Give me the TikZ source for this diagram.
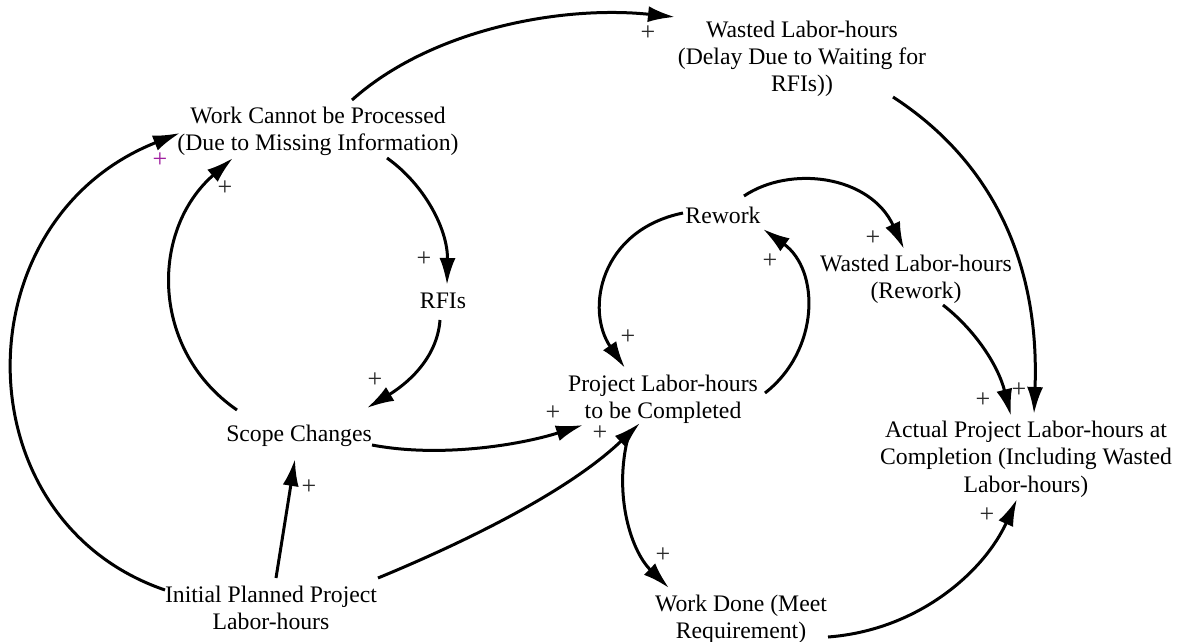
\documentclass[tikz,border=0pt]{standalone}
\usepackage{fontspec}
\setmainfont{Liberation Serif}
\usetikzlibrary{arrows.meta,calc}
\definecolor{pluscol}{HTML}{2A2A2A}
\definecolor{purp}{HTML}{A020A0}
\begin{document}
\begin{tikzpicture}[x=1pt,y=-1pt,
  var/.style={align=center,inner sep=0pt,font=\fontsize{23.7}{27.3}\selectfont},
  link/.style={line width=3pt,-{Latex[length=27pt,width=16pt]}},
  pol/.style={font=\fontsize{26}{26}\selectfont,inner sep=0pt,text=pluscol}]
\useasboundingbox (0,0) rectangle (1180,642);
\fill[white] (0,0) rectangle (1180,642);

% variables
\node[var] (wcp) at (318,131) {Work Cannot be Processed\\(Due to Missing Information)};
\node[var] (wld) at (802,59) {Wasted Labor-hours\\(Delay Due to Waiting for\\RFIs))};
\node[var] (rfi) at (443,301) {RFIs};
\node[var] (scope) at (299,436) {Scope Changes};
\node[var] (init) at (271,608) {Initial Planned Project\\Labor-hours};
\node[var] (rework) at (723,215) {Rework};
\node[var] (wlr) at (916,279) {Wasted Labor-hours\\(Rework)};
\node[var] (plc) at (663,399) {Project Labor-hours\\to be Completed};
\node[var] (actual) at (1026,459) {Actual Project Labor-hours at\\Completion (Including Wasted\\Labor-hours)};
\node[var] (done) at (741,619) {Work Done (Meet\\Requirement)};

% links
\draw[link] ($(wcp)+(34,-31)$) .. controls (430,30) and (560,5) .. ($(wld)+(-127,-42)$);
\draw[link] ($(wld)+(91,38)$) .. controls (990,160) and (1040,260) .. ($(actual)+(8,-45)$);
\draw[link] ($(wcp)+(69,27)$) .. controls (425,185) and (448,230) .. ($(rfi)+(4,-16)$);
\draw[link] ($(rfi)+(-3,19)$) .. controls (437,360) and (405,385) .. ($(scope)+(68,-28)$);
\draw[link] ($(scope)+(-62,-26)$) .. controls (150,350) and (150,230) .. ($(wcp)+(-85,27)$);
\draw[link] ($(init)+(-106,-18)$) .. controls (-40,520) and (-40,220) .. ($(wcp)+(-138,2)$);
\draw[link] ($(init)+(5,-30)$) -- ($(scope)+(-4,23)$);
\draw[link] ($(scope)+(73,9)$) .. controls (440,458) and (520,445) .. ($(plc)+(-80,26)$);
\draw[link] ($(init)+(107,-30)$) .. controls (470,540) and (570,490) .. ($(plc)+(-23,24)$);
\draw[link] ($(plc)+(102,-6)$) .. controls (820,350) and (820,270) .. ($(rework)+(40,14)$);
\draw[link] ($(rework)+(-40,-2)$) .. controls (600,230) and (585,310) .. ($(plc)+(-38,-31)$);
\draw[link] ($(rework)+(21,-19)$) .. controls (790,165) and (870,175) .. ($(wlr)+(-12,-30)$);
\draw[link] ($(wlr)+(27,26)$) .. controls (975,330) and (998,365) .. ($(actual)+(-15,-43)$);
\draw[link] ($(plc)+(-33,31)$) .. controls (612,490) and (630,550) .. ($(done)+(-72,-31)$);
\draw[link] ($(done)+(87,18)$) .. controls (920,630) and (985,570) .. ($(actual)+(-9,40)$);

% polarities
\node[pol] (p1) at (648,33) {+};
\node[pol] (p2) at (1019,390) {+};
\node[pol] (p3) at (424,259) {+};
\node[pol] (p4) at (375,380) {+};
\node[pol] (p5) at (225,188) {+};
\node[pol,text=purp] (p6) at (160,160) {+};
\node[pol] (p7) at (309,487) {+};
\node[pol] (p8) at (553,413) {+};
\node[pol] (p9) at (600,433) {+};
\node[pol] (p10) at (770,261) {+};
\node[pol] (p11) at (628,337) {+};
\node[pol] (p12) at (873,238) {+};
\node[pol] (p13) at (983,400) {+};
\node[pol] (p14) at (663,555) {+};
\node[pol] (p15) at (987,515) {+};
\end{tikzpicture}
\end{document}
